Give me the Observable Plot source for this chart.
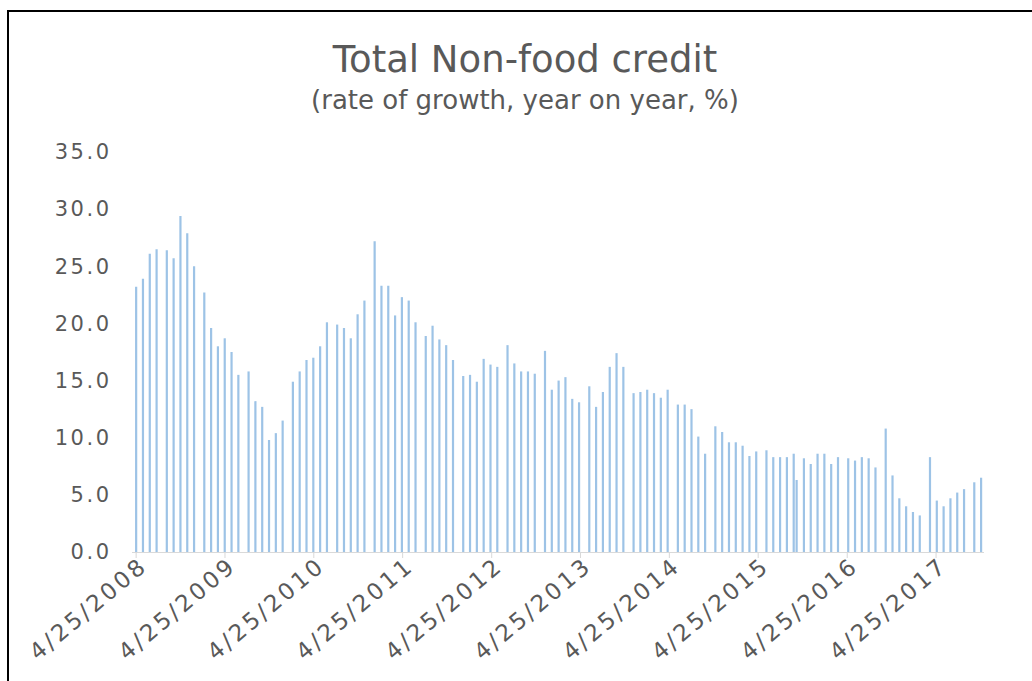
<!DOCTYPE html>
<html><head><meta charset="utf-8">
<script src="https://cdn.jsdelivr.net/npm/d3@7"></script>
<script src="https://cdn.jsdelivr.net/npm/@observablehq/plot@0.6"></script>
<style>
body{margin:0;background:#fff;}
#wrap{position:relative;width:1032px;height:681px;overflow:hidden;background:#fff;font-family:"DejaVu Sans",sans-serif;}
#frame{position:absolute;left:7px;top:10px;width:1040px;height:700px;border-top:2px solid #000;border-left:2px solid #000;}
#title{position:absolute;left:0;width:1050px;top:41px;text-align:center;font-size:37px;line-height:37px;color:#595959;white-space:nowrap;}
#subtitle{position:absolute;left:0;width:1050px;top:87px;text-align:center;font-size:26px;line-height:26px;color:#595959;white-space:nowrap;}
#chart{position:absolute;left:0;top:130px;}
#chart g[aria-label="y-axis tick label"] text{letter-spacing:2.5px;}
#chart g[aria-label="x-axis tick label"] text{letter-spacing:3px;}
</style>
</head><body>
<div id="wrap">
  <div id="frame"></div>
  <div id="title">Total Non-food credit</div>
  <div id="subtitle">(rate of growth, year on year, %)</div>
  <div id="chart"></div>
</div>
<script>
// Reporting dates (last reporting Friday of each month)
const dates = [
  "2008-04-25","2008-05-23","2008-06-20","2008-07-18","2008-08-29","2008-09-26","2008-10-24","2008-11-21","2008-12-19",
  "2009-01-30","2009-02-27","2009-03-27","2009-04-24","2009-05-22","2009-06-19","2009-07-31","2009-08-28","2009-09-25","2009-10-23","2009-11-20","2009-12-18",
  "2010-01-29","2010-02-26","2010-03-26","2010-04-23","2010-05-21","2010-06-18","2010-07-30","2010-08-27","2010-09-24","2010-10-22","2010-11-19","2010-12-31",
  "2011-01-28","2011-02-25","2011-03-25","2011-04-22","2011-05-20","2011-06-17","2011-07-29","2011-08-26","2011-09-23","2011-10-21","2011-11-18","2011-12-30",
  "2012-01-27","2012-02-24","2012-03-23","2012-04-20","2012-05-18","2012-06-29","2012-07-27","2012-08-24","2012-09-21","2012-10-19","2012-11-30","2012-12-28",
  "2013-01-25","2013-02-22","2013-03-22","2013-04-19","2013-05-31","2013-06-28","2013-07-26","2013-08-23","2013-09-20","2013-10-18","2013-11-29","2013-12-27",
  "2014-01-24","2014-02-21","2014-03-21","2014-04-18","2014-05-30","2014-06-27","2014-07-25","2014-08-22","2014-09-19","2014-10-31","2014-11-28","2014-12-26",
  "2015-01-23","2015-02-20","2015-03-20","2015-04-17","2015-05-29","2015-06-26","2015-07-24","2015-08-21","2015-09-18","2015-09-30","2015-10-30","2015-11-27","2015-12-25",
  "2016-01-22","2016-02-19","2016-03-18","2016-04-29","2016-05-27","2016-06-24","2016-07-22","2016-08-19","2016-09-30","2016-10-28","2016-11-25","2016-12-23",
  "2017-01-20","2017-02-17","2017-03-31","2017-04-28","2017-05-26","2017-06-23","2017-07-21","2017-08-18","2017-09-29","2017-10-27"
];
// Non-food credit growth, y-o-y %
const growth = [
  23.2,23.9,26.1,26.5,26.4,25.7,29.4,27.9,25.0,
  22.7,19.6,18.0,18.7,17.5,15.5,15.8,13.2,12.7,9.8,10.4,11.5,
  14.9,15.8,16.8,17.0,18.0,20.1,19.9,19.6,18.7,20.8,22.0,27.2,
  23.3,23.3,20.7,22.3,22.0,20.1,18.9,19.8,18.6,18.1,16.8,15.4,
  15.5,14.9,16.9,16.4,16.2,18.1,16.5,15.8,15.8,15.6,17.6,14.2,
  15.0,15.3,13.4,13.1,14.5,12.7,14.0,16.2,17.4,16.2,13.9,14.0,
  14.2,13.9,13.5,14.2,12.9,12.9,12.5,10.1,8.6,11.0,10.5,9.6,
  9.6,9.3,8.4,8.8,8.9,8.3,8.3,8.3,8.6,6.3,8.2,7.7,8.6,
  8.6,7.7,8.3,8.2,8.0,8.3,8.2,7.4,10.8,6.7,4.7,4.0,
  3.5,3.2,8.3,4.5,4.0,4.7,5.2,5.5,6.1,6.5
];
const xTicks = ["2008-04-25","2009-04-25","2010-04-25","2011-04-25","2012-04-25","2013-04-25","2014-04-25","2015-04-25","2016-04-25","2017-04-25"];
const yTicks = [0,5,10,15,20,25,30,35];
const xDomain = ["2008-04-10","2017-11-10"];

const data = dates.map((d, i) => ({date: new Date(d), value: growth[i]}));
const tickDates = xTicks.map(d => new Date(d));

const chart = Plot.plot({
  width: 1032,
  height: 551,
  marginTop: 22,
  marginBottom: 129,
  marginLeft: 132,
  marginRight: 48,
  style: {fontFamily: "DejaVu Sans", fontSize: "20px", color: "#595959", background: "transparent"},
  x: {type: "utc", domain: xDomain.map(d => new Date(d))},
  y: {domain: [0, 35]},
  marks: [
    Plot.ruleY([0], {stroke: "#d9d9d9", strokeWidth: 1}),
    Plot.ruleX(data, {x: "date", y: "value", stroke: "#9dc3e6", strokeWidth: 2.2}),
    Plot.axisY({ticks: yTicks, tickFormat: d3.format(".1f"), tickSize: 0, tickPadding: 21, fill: "#595959", fontSize: 21, label: null}),
    Plot.axisX({ticks: tickDates, tickFormat: () => "", tickSize: 6, stroke: "#d9d9d9", label: null}),
    Plot.axisX({ticks: tickDates, tickFormat: d3.utcFormat("%-m/%-d/%Y"), tickRotate: -40, tickSize: 0, tickPadding: 10, dx: 8, fill: "#595959", fontSize: 23, label: null})
  ]
});
document.getElementById("chart").appendChild(chart);
</script>
</body></html>
